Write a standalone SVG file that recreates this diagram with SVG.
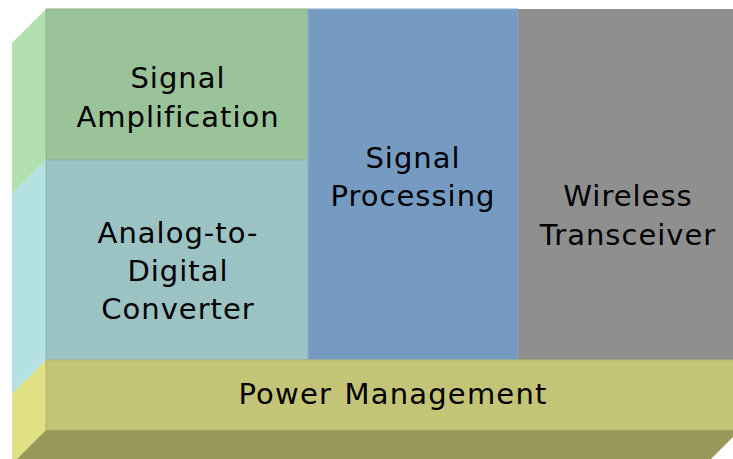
<svg xmlns="http://www.w3.org/2000/svg" width="733" height="459" viewBox="0 0 733 459">
<style>
text{font-family:"DejaVu Sans","Verdana",sans-serif;font-size:29px;fill:#000;text-anchor:middle;letter-spacing:1px}
.wide{letter-spacing:1.2px;word-spacing:2px}
</style>
<rect width="733" height="459" fill="#fff"/>
<g id="amplification">
<polygon points="12,43 46,9 46,160 12,194" fill="#b3e0b1"/>
<rect x="46" y="9" width="262" height="151" fill="#9bc39a" stroke="#8db58c" stroke-width="1"/>
<text x="178" y="88">Signal</text>
<text x="178" y="127">Amplification</text>
</g>
<g id="adc">
<polygon points="12,194 46,160 46,360 12,394" fill="#b4e1e2"/>
<rect x="46" y="160" width="262" height="200" fill="#9bc3c3" stroke="#8cb4b5" stroke-width="1"/>
<text x="178" y="243">Analog-to-</text>
<text x="178" y="281">Digital</text>
<text x="178" y="319">Converter</text>
</g>
<g id="processing">
<rect x="308" y="9" width="210" height="351" fill="#769bc3" stroke="#8fb0d3" stroke-width="1"/>
<text x="413" y="168">Signal</text>
<text x="413" y="206">Processing</text>
</g>
<g id="transceiver">
<rect x="518" y="9" width="220" height="351" fill="#8f8f8f"/>
<text x="628" y="206">Wireless</text>
<text x="628" y="245">Transceiver</text>
</g>
<g id="power">
<polygon points="12,394 46,360 46,430 12,464" fill="#e0e084"/>
<polygon points="46,430 740,430 706,464 12,464" fill="#989858"/>
<rect x="46" y="360" width="694" height="70" fill="#c4c476" stroke="#b4b466" stroke-width="1"/>
<text class="wide" x="393" y="404">Power Management</text>
</g>
<g id="connectors"/>
</svg>
